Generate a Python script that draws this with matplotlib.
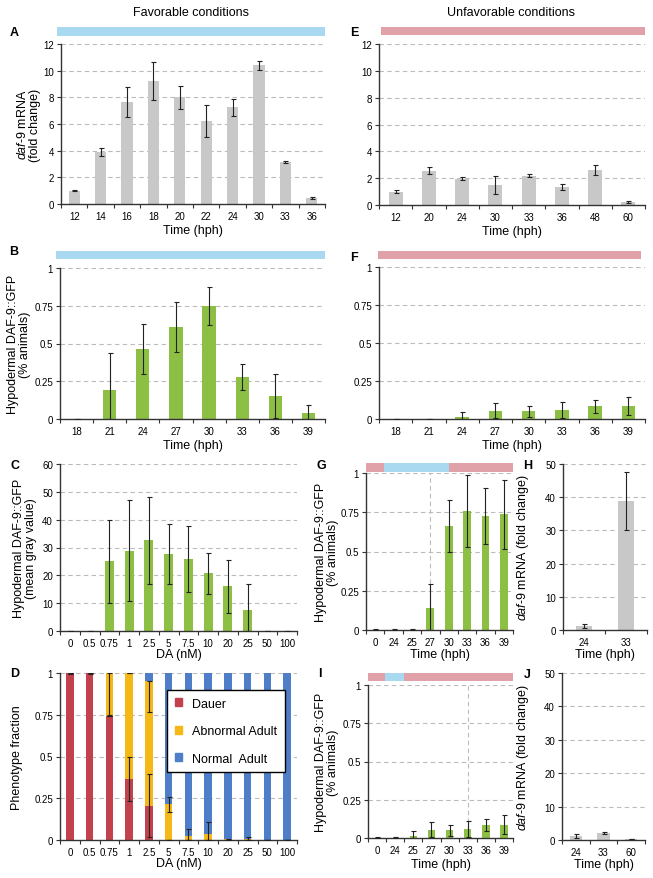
import numpy as np
import matplotlib
matplotlib.use('Agg')
import matplotlib.pyplot as plt
from matplotlib.patches import Patch

plt.rcParams['font.family'] = ['Liberation Sans', 'DejaVu Sans']
plt.rcParams['mathtext.fontset'] = 'custom'
plt.rcParams['mathtext.it'] = 'Liberation Sans:italic'
plt.rcParams['mathtext.rm'] = 'Liberation Sans'

# ---- data ----
# A: daf-9 mRNA, favorable
a_time = ['12', '14', '16', '18', '20', '22', '24', '30', '33', '36']
a_val = [1.0, 3.9, 7.65, 9.2, 8.0, 6.25, 7.25, 10.4, 3.15, 0.48]
a_err = [0.06, 0.3, 1.1, 1.42, 0.87, 1.2, 0.63, 0.33, 0.04, 0.07]

# E: daf-9 mRNA, unfavorable
e_time = ['12', '20', '24', '30', '33', '36', '48', '60']
e_val = [1.0, 2.56, 1.97, 1.5, 2.19, 1.34, 2.6, 0.25]
e_err = [0.14, 0.28, 0.1, 0.68, 0.1, 0.2, 0.4, 0.07]

# B: DAF-9::GFP % animals, favorable
b_time = ['18', '21', '24', '27', '30', '33', '36', '39']
b_val = [0, 0.19, 0.466, 0.61, 0.746, 0.278, 0.152, 0.038]
b_err = [0, 0.25, 0.165, 0.165, 0.125, 0.085, 0.145, 0.055]

# F: DAF-9::GFP % animals, unfavorable
f_time = ['18', '21', '24', '27', '30', '33', '36', '39']
f_val = [0, 0, 0.015, 0.055, 0.05, 0.061, 0.083, 0.088]
f_err = [0, 0, 0.03, 0.05, 0.035, 0.052, 0.042, 0.06]

# C: DAF-9::GFP mean gray value vs DA
da = ['0', '0.5', '0.75', '1', '2.5', '5', '7.5', '10', '20', '25', '50', '100']
c_val = [0, 0, 25.1, 28.9, 32.6, 27.8, 25.9, 20.8, 16.0, 7.4, 0, 0]
c_err = [0, 0, 14.9, 18.2, 15.7, 10.8, 11.8, 7.4, 9.6, 9.4, 0, 0]

# D: phenotype fractions vs DA
dauer = [1.0, 1.0, 0.745, 0.365, 0.205, 0, 0, 0, 0, 0, 0, 0]
abnormal = [0, 0, 0.255, 0.635, 0.75, 0.215, 0.025, 0.035, 0.003, 0.008, 0, 0]
normal = [0, 0, 0, 0, 0.045, 0.785, 0.975, 0.965, 0.997, 0.992, 1.0, 1.0]
dauer_err = [0.004, 0.006, 0, 0.13, 0.19, 0, 0, 0, 0, 0, 0, 0]
abn_err_lo = [0, 0, 0.25, 0, 0.19, 0.045, 0.035, 0.06, 0.005, 0.01, 0, 0]
abn_err_hi = [0, 0, 0, 0, 0, 0.045, 0.04, 0.075, 0.005, 0.01, 0, 0]

# G / I: shift experiments
shift_time = ['0', '24', '25', '27', '30', '33', '36', '39']
g_val = [0.003, 0.003, 0.003, 0.14, 0.662, 0.757, 0.726, 0.738]
g_err = [0.003, 0.003, 0.003, 0.15, 0.167, 0.23, 0.18, 0.22]
i_val = [0.003, 0.003, 0.015, 0.055, 0.05, 0.061, 0.085, 0.087]
i_err = [0.003, 0.003, 0.03, 0.05, 0.035, 0.052, 0.042, 0.062]
g_shift = [(-0.5, 0.5, 'unfav'), (0.5, 4.0, 'fav'), (4.0, 7.5, 'unfav')]
i_shift = [(-0.5, 0.45, 'unfav'), (0.45, 1.5, 'fav'), (1.5, 7.5, 'unfav')]
g_mark = '27'
i_mark = '33'

# H / J: daf-9 mRNA after shift
h_time = ['24', '33']
h_val = [1.1, 38.8]
h_err = [0.6, 8.7]
j_time = ['24', '33', '60']
j_val = [1.1, 2.1, 0.3]
j_err = [0.6, 0.2, 0.1]

GRAY = '#c8c8c8'
GREEN = '#8dbf45'
COND = {'fav': '#a9d8f1', 'unfav': '#e1a1a8'}
TICK = 7

W, H = 653, 879
fig = plt.figure(figsize=(W / 100, H / 100), dpi=100)


def rect(l, r, t, b):
    return [l / W, 1 - b / H, (r - l) / W, (b - t) / H]


def style(ax, cats, ymax, ystep):
    n = len(cats)
    ax.set_xlim(-0.5, n - 0.5)
    ax.set_ylim(0, ymax)
    ax.set_xticks(np.arange(n))
    ax.set_xticklabels(cats)
    ax.set_xticks(np.arange(n + 1) - 0.5, minor=True)
    yt = np.arange(0, ymax + ystep / 2, ystep)
    ax.set_yticks(yt)
    ax.set_yticklabels(['{:g}'.format(v) for v in yt])
    ax.tick_params(axis='x', which='major', length=0, labelsize=TICK, pad=5)
    ax.tick_params(axis='x', which='minor', length=3, width=0.8, color='#333333')
    ax.tick_params(axis='y', length=3, width=0.8, color='#333333', labelsize=TICK, pad=2)
    for s in ['top', 'right']:
        ax.spines[s].set_visible(False)
    for s in ['left', 'bottom']:
        ax.spines[s].set_color('#333333')
        ax.spines[s].set_linewidth(1)
    for v in yt[1:]:
        ax.axhline(v, color='#bbbbbb', lw=0.8, ls=(0, (4, 3)), zorder=1)


def panel(box, cats, vals, errs, color, ymax, ystep, width):
    ax = fig.add_axes(rect(*box))
    x = np.arange(len(cats))
    ax.bar(x, vals, width=width, color=color, zorder=2)
    ax.errorbar(x, vals, yerr=errs, fmt='none', ecolor='#222222',
                elinewidth=0.8, capsize=1.8, capthick=0.8, zorder=3)
    style(ax, cats, ymax, ystep)
    return ax


def strip(box, segs, n):
    ax = fig.add_axes(rect(*box))
    for a, b, c in segs:
        ax.barh(0, b - a, left=a, height=1, color=COND[c], linewidth=0)
    ax.set_xlim(-0.5, n - 0.5)
    ax.set_ylim(-0.5, 0.5)
    ax.axis('off')


def letter(x, y, s):
    fig.text(x / W, 1 - y / H, s, fontsize=9, fontweight='bold', ha='center', va='center')


def ylab(ax, text, right_px, box_left, box_w):
    # ylabel anchored by its right edge (pixel position in figure)
    ax.set_ylabel(text, fontsize=9, linespacing=0.95)
    ax.yaxis.set_label_coords((right_px - box_left) / box_w, 0.5)


mrna2 = '$\\mathit{daf}$-$\\mathit{9}$ mRNA\n(fold change)'
mrna1 = '$\\mathit{daf}$-$\\mathit{9}$ mRNA (fold change)'
gfp_pct = 'Hypodermal DAF-9::GFP\n(% animals)'

# A
ax = panel((61, 325, 45, 205), a_time, a_val, a_err, GRAY, 12, 2, 0.42)
ax.set_xlabel('Time (hph)', fontsize=9, labelpad=2)
ylab(ax, mrna2, 41, 61, 264)
strip((57, 325, 28, 37), [(-0.5, len(a_time) - 0.5, 'fav')], len(a_time))

# E
ax = panel((379, 645, 45, 206), e_time, e_val, e_err, GRAY, 12, 2, 0.42)
ax.set_xlabel('Time (hph)', fontsize=9, labelpad=2)
strip((381, 645, 28, 36), [(-0.5, len(e_time) - 0.5, 'unfav')], len(e_time))

# B
ax = panel((60, 325, 269, 420), b_time, b_val, b_err, GREEN, 1, 0.25, 0.4)
ax.set_xlabel('Time (hph)', fontsize=9, labelpad=2)
ylab(ax, gfp_pct, 31, 60, 265)
strip((56, 325, 252, 260), [(-0.5, len(b_time) - 0.5, 'fav')], len(b_time))

# F
ax = panel((379, 645, 268, 420), f_time, f_val, f_err, GREEN, 1, 0.25, 0.4)
ax.set_xlabel('Time (hph)', fontsize=9, labelpad=2)
strip((378, 641, 252, 260), [(-0.5, len(f_time) - 0.5, 'unfav')], len(f_time))

# C
ax = panel((60, 297, 465, 632), da, c_val, c_err, GREEN, 60, 10, 0.45)
ax.set_xlabel('DA (nM)', fontsize=9, labelpad=0)
ylab(ax, 'Hypodermal DAF-9::GFP\n(mean gray value)', 37, 60, 237)

# D
ax = fig.add_axes(rect(60, 297, 674, 841))
x = np.arange(len(da))
d_cols = ['#c2414c', '#f6b816', '#4f7ec8']
ax.bar(x, dauer, 0.38, color=d_cols[0], zorder=2)
ax.bar(x, abnormal, 0.38, bottom=dauer, color=d_cols[1], zorder=2)
ax.bar(x, normal, 0.38, bottom=np.add(dauer, abnormal), color=d_cols[2], zorder=2)
ax.errorbar(x, dauer, yerr=dauer_err, fmt='none', ecolor='#222222',
            elinewidth=0.8, capsize=1.8, capthick=0.8, zorder=3)
ax.errorbar(x, np.add(dauer, abnormal), yerr=[abn_err_lo, abn_err_hi], fmt='none',
            ecolor='#222222', elinewidth=0.8, capsize=1.8, capthick=0.8, zorder=3)
style(ax, da, 1, 0.25)
ax.set_xlabel('DA (nM)', fontsize=9, labelpad=0)
ylab(ax, 'Phenotype fraction', 23, 60, 237)
handles = [Patch(color=c) for c in d_cols]
leg = ax.legend(handles, ['Dauer', 'Abnormal Adult', 'Normal  Adult'],
                loc='upper left', bbox_to_anchor=(0.452, 0.898), borderaxespad=0,
                fontsize=9, frameon=True, fancybox=False, edgecolor='black',
                framealpha=1, handlelength=0.6, handleheight=0.6, labelspacing=1.25,
                borderpad=0.6, handletextpad=0.8)
leg.get_frame().set_linewidth(1)
leg.set_zorder(5)

# G
ax = panel((366, 513, 474, 631), shift_time, g_val, g_err, GREEN, 1, 0.25, 0.42)
gi = shift_time.index(g_mark)
ax.plot([gi, gi], [0, 1], color='#bbbbbb', lw=0.8, ls=(0, (4, 3)), zorder=1)
ax.set_xlabel('Time (hph)', fontsize=9, labelpad=1)
ylab(ax, gfp_pct, 339, 366, 147)
strip((366, 513, 464, 473), g_shift, len(shift_time))

# H
ax = panel((563, 647, 465, 631), h_time, h_val, h_err, GRAY, 50, 10, 0.4)
ax.set_xlabel('Time (hph)', fontsize=9, labelpad=1)
ylab(ax, mrna1, 531, 563, 84)

# I
ax = panel((368, 513, 686, 839), shift_time, i_val, i_err, GREEN, 1, 0.25, 0.42)
ii = shift_time.index(i_mark)
ax.plot([ii, ii], [0, 1], color='#bbbbbb', lw=0.8, ls=(0, (4, 3)), zorder=1)
ax.set_xlabel('Time (hph)', fontsize=9, labelpad=2)
ylab(ax, gfp_pct, 339, 368, 145)
strip((368, 513, 674, 682), i_shift, len(shift_time))

# J
ax = panel((562, 645, 674, 841), j_time, j_val, j_err, GRAY, 50, 10, 0.45)
ax.set_xlabel('Time (hph)', fontsize=9, labelpad=1)
ylab(ax, mrna1, 531, 562, 83)

fig.text(191 / W, 1 - 13 / H, 'Favorable conditions', fontsize=9, ha='center', va='center')
fig.text(511 / W, 1 - 13 / H, 'Unfavorable conditions', fontsize=9, ha='center', va='center')
for lx, ly, s in [(14, 33, 'A'), (354, 33, 'E'), (14, 252, 'B'), (354, 258, 'F'),
                  (15, 466, 'C'), (321, 466, 'G'), (528, 466, 'H'),
                  (15, 674, 'D'), (320, 674, 'I'), (527, 675, 'J')]:
    letter(lx, ly, s)

fig.savefig('out.png', dpi=100)
